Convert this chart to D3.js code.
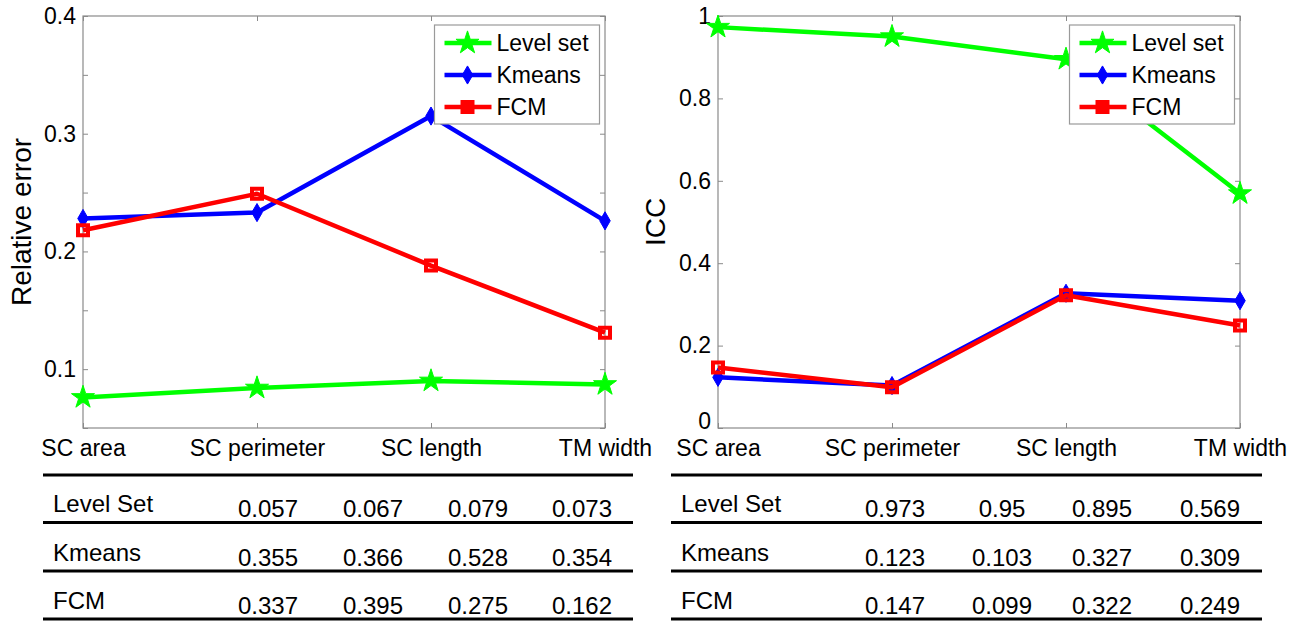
<!DOCTYPE html>
<html lang="en">
<head>
<meta charset="utf-8">
<title>Relative error and ICC</title>
<script src="https://cdn.jsdelivr.net/npm/d3@7"></script>
<style>
  body { margin: 0; background: #fff; }
  text { font-family: "Liberation Sans", Arial, sans-serif; fill: #000; }
</style>
</head>
<body>
<script>
// ---- data ----
var categories = ["SC area", "SC perimeter", "SC length", "TM width"];
var seriesNames = ["Level set", "Kmeans", "FCM"];

// left chart: relative error
var errLevelSet = [0.076, 0.084, 0.090, 0.087];
var errKmeans   = [0.228, 0.233, 0.315, 0.226];
var errFCM      = [0.218, 0.249, 0.188, 0.131];

// right chart: ICC
var iccLevelSet = [0.973, 0.95, 0.895, 0.569];
var iccKmeans   = [0.123, 0.103, 0.327, 0.309];
var iccFCM      = [0.147, 0.099, 0.322, 0.249];

var errTicks = [0.05, 0.1, 0.15, 0.2, 0.25, 0.3, 0.35, 0.4];
var errTickLabels = ["", "0.1", "", "0.2", "", "0.3", "", "0.4"];
var iccTicks = [0, 0.2, 0.4, 0.6, 0.8, 1];
var iccTickLabels = ["0", "0.2", "0.4", "0.6", "0.8", "1"];

// tables under the charts
var tableRows = ["Level Set", "Kmeans", "FCM"];
var tableLeft = [
  ["0.057", "0.067", "0.079", "0.073"],
  ["0.355", "0.366", "0.528", "0.354"],
  ["0.337", "0.395", "0.275", "0.162"]
];
var tableRight = [
  ["0.973", "0.95", "0.895", "0.569"],
  ["0.123", "0.103", "0.327", "0.309"],
  ["0.147", "0.099", "0.322", "0.249"]
];

var colors = ["#00ff00", "#0000ff", "#ff0000"];
var shapes = [d3.symbolStar, d3.symbolDiamond, d3.symbolSquare];
var sizes = [165, 95, 100];

var svg = d3.select("body").append("svg")
    .attr("width", 1300)
    .attr("height", 622);

function drawChart(left, right, domain, ticks, tickLabels, series, yTitle, titleX, legendX) {
  var top = 16, bottom = 428;
  var x = d3.scaleLinear().domain([0, categories.length - 1]).range([left, right]);
  var y = d3.scaleLinear().domain(domain).range([bottom, top]);
  var g = svg.append("g");
  var axisColor = "#8a8a8a";

  // y ticks on both sides (inward), labels on left
  g.append("g")
    .attr("transform", "translate(" + left + ",0)")
    .call(d3.axisLeft(y).tickValues(ticks).tickSizeInner(-5).tickSizeOuter(0).tickPadding(7)
      .tickFormat(function(d, i) { return tickLabels[i]; }))
    .call(function(a) {
      a.select(".domain").remove();
      a.selectAll("line").attr("stroke", axisColor);
      a.selectAll("text").attr("font-size", "23px").attr("font-family", null)
        .attr("y", function(d) { return d === 0 ? -7 : 0; });
    });
  g.append("g")
    .attr("transform", "translate(" + right + ",0)")
    .call(d3.axisRight(y).tickValues(ticks).tickSizeInner(-5).tickSizeOuter(0).tickFormat(""))
    .call(function(a) {
      a.select(".domain").remove();
      a.selectAll("line").attr("stroke", axisColor);
    });

  // x ticks top and bottom
  var idx = d3.range(categories.length);
  g.append("g")
    .attr("transform", "translate(0," + bottom + ")")
    .call(d3.axisBottom(x).tickValues(idx).tickSizeInner(-5).tickSizeOuter(0).tickPadding(0)
      .tickFormat(function(d) { return categories[d]; }))
    .call(function(a) {
      a.select(".domain").remove();
      a.selectAll("line").attr("stroke", axisColor);
      a.selectAll("text").attr("font-size", "23px").attr("font-family", null)
        .attr("dy", null).attr("y", 28);
    });
  g.append("g")
    .attr("transform", "translate(0," + top + ")")
    .call(d3.axisTop(x).tickValues(idx).tickSizeInner(-5).tickSizeOuter(0).tickFormat(""))
    .call(function(a) {
      a.select(".domain").remove();
      a.selectAll("line").attr("stroke", axisColor);
    });

  g.append("rect")
    .attr("x", left).attr("y", top)
    .attr("width", right - left).attr("height", bottom - top)
    .attr("fill", "none").attr("stroke", axisColor).attr("stroke-width", 1.2);

  // y title
  g.append("text")
    .attr("transform", "translate(" + titleX + "," + (top + bottom) / 2 + ") rotate(-90)")
    .attr("text-anchor", "middle")
    .attr("dy", "0.35em")
    .attr("font-size", "28px")
    .text(yTitle);

  var line = d3.line()
    .x(function(d, i) { return x(i); })
    .y(function(d) { return y(d); });

  series.forEach(function(vals, s) {
    g.append("path")
      .datum(vals)
      .attr("d", line)
      .attr("fill", "none")
      .attr("stroke", colors[s])
      .attr("stroke-width", 4.5)
      .attr("stroke-linejoin", "round");
    g.selectAll(".m" + s)
      .data(vals)
      .enter().append("path")
      .attr("class", "m" + s)
      .attr("transform", function(d, i) { return "translate(" + x(i) + "," + y(d) + ")"; })
      .attr("d", d3.symbol(shapes[s], sizes[s]))
      .attr("fill", s === 2 ? "none" : colors[s])
      .attr("stroke", colors[s])
      .attr("stroke-width", s === 2 ? 4 : 1);
  });

  // legend
  var lg = g.append("g").attr("transform", "translate(" + legendX + ",25)");
  lg.append("rect")
    .attr("width", 165).attr("height", 99)
    .attr("fill", "#fff").attr("stroke", "#9a9a9a").attr("stroke-width", 1.2);
  seriesNames.forEach(function(name, s) {
    var ly = 18 + s * 32;
    lg.append("line")
      .attr("x1", 10).attr("x2", 57).attr("y1", ly).attr("y2", ly)
      .attr("stroke", colors[s]).attr("stroke-width", 4.5);
    lg.append("path")
      .attr("transform", "translate(33," + ly + ")")
      .attr("d", d3.symbol(shapes[s], sizes[s]))
      .attr("fill", colors[s]).attr("stroke", colors[s])
      .attr("stroke-width", s === 2 ? 4 : 1);
    lg.append("text")
      .attr("x", 62).attr("y", ly).attr("dy", "0.35em")
      .attr("font-size", "23px")
      .text(name);
  });
}

drawChart(83, 605, [0.05, 0.4], errTicks, errTickLabels,
  [errLevelSet, errKmeans, errFCM], "Relative error", 21, 434.5);
drawChart(718, 1240, [0, 1], iccTicks, iccTickLabels,
  [iccLevelSet, iccKmeans, iccFCM], "ICC", 655, 1069.5);

function drawTable(x0, x1, labelX, colCenters, rows) {
  var lineY = [475, 522.5, 571, 619];
  var t = svg.append("g");
  lineY.forEach(function(ly) {
    t.append("line")
      .attr("x1", x0).attr("x2", x1).attr("y1", ly).attr("y2", ly)
      .attr("stroke", "#000").attr("stroke-width", 3);
  });
  tableRows.forEach(function(name, r) {
    var base = 512 + r * 48.5;
    t.append("text")
      .attr("x", labelX).attr("y", base)
      .attr("font-size", "24px")
      .text(name);
    rows[r].forEach(function(v, c) {
      t.append("text")
        .attr("x", colCenters[c]).attr("y", base + 5)
        .attr("text-anchor", "middle")
        .attr("font-size", "24px")
        .text(v);
    });
  });
}

drawTable(43, 633, 53, [268, 373, 478, 582], tableLeft);
drawTable(671, 1262, 681, [895, 1002, 1102, 1210], tableRight);
</script>
</body>
</html>
